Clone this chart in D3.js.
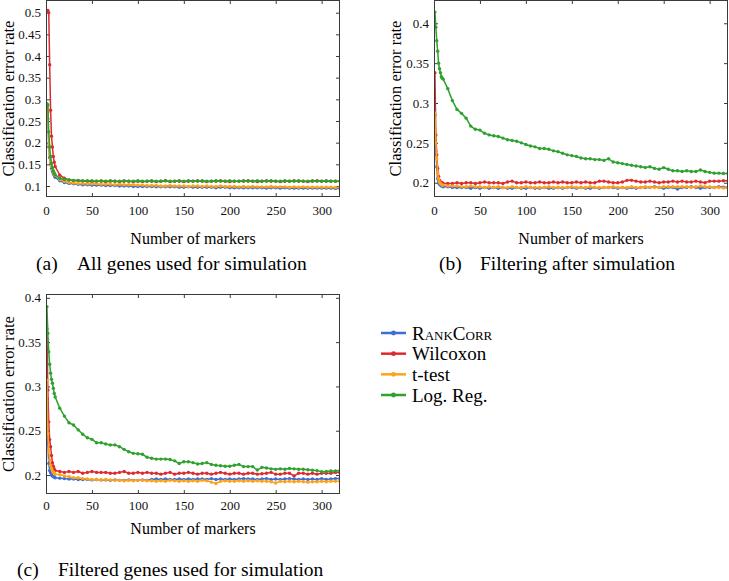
<!DOCTYPE html>
<html>
<head>
<meta charset="utf-8">
<script src="https://cdn.jsdelivr.net/npm/d3@7"></script>
<style>
  body { margin: 0; background: #fff; }
  svg text { font-family: "Liberation Serif", "DejaVu Serif", "Noto Serif", serif; }
</style>
</head>
<body>
<svg id="chart" width="729" height="581"></svg>
<script>
// number of markers at which each method was evaluated
const markers = [1,2,3,4,5,6,7,8,9,10,15,20,25,30,35,40,45,50,55,60,65,70,75,80,85,90,95,100,105,110,
  115,120,125,130,135,140,145,150,155,160,165,170,175,180,185,190,195,200,205,210,215,220,225,230,235,240,
  245,250,255,260,265,270,275,280,285,290,295,300,305,310,315,320];

const methods = ["RankCorr", "Wilcoxon", "t-test", "Log. Reg."];
const colors = ["#3b6fd6", "#dc2b2f", "#ffa21a", "#2ea12e"];

const xTicks = [0, 50, 100, 150, 200, 250, 300];
const yTicksA = [0.1, 0.15, 0.2, 0.25, 0.3, 0.35, 0.4, 0.45, 0.5];
const yTicksB = [0.2, 0.25, 0.3, 0.35, 0.4];
const yTicksC = [0.2, 0.25, 0.3, 0.35, 0.4];

// (a) all genes used for simulation
const rankA = [.28,.255,.19,.165,.15,.14,.133,.128,.124,.12,
  .112,.108,.106,.105,.104,.103,.103,.102,.102,.102,
  .101,.101,.101,.100,.100,.100,.099,.099,.099,.099,
  .099,.098,.098,.098,.098,.098,.097,.097,.098,.097,
  .097,.097,.097,.097,.096,.097,.097,.096,.096,.096,
  .096,.096,.096,.096,.096,.095,.096,.096,.095,.096,
  .095,.095,.095,.095,.095,.095,.095,.095,.095,.095,
  .0945,.0945];
const wilcA = [.505,.505,.50,.38,.275,.215,.19,.168,.155,.145,
  .125,.118,.114,.112,.112,.111,.111,.110,.111,.111,
  .110,.111,.111,.110,.111,.111,.110,.111,.110,.111,
  .111,.110,.111,.112,.110,.111,.111,.110,.111,.111,
  .112,.111,.110,.111,.111,.112,.111,.110,.111,.111,
  .111,.112,.111,.110,.111,.112,.111,.111,.110,.111,
  .111,.112,.111,.111,.110,.111,.112,.111,.111,.111,
  .111,.111];
const ttestA = [.275,.27,.195,.17,.155,.145,.138,.132,.128,.125,
  .115,.111,.108,.107,.106,.106,.105,.105,.105,.104,
  .104,.104,.103,.104,.103,.103,.103,.102,.102,.101,
  .101,.101,.100,.100,.101,.100,.100,.100,.099,.100,
  .100,.099,.100,.099,.099,.100,.099,.099,.099,.098,
  .099,.098,.099,.098,.098,.098,.099,.098,.098,.098,
  .097,.098,.097,.098,.097,.097,.097,.097,.097,.097,
  .0965,.0965];
const logregA = [.29,.287,.225,.19,.168,.152,.142,.135,.13,.126,
  .118,.115,.114,.113,.113,.112,.112,.112,.111,.112,
  .111,.112,.111,.111,.112,.111,.111,.112,.111,.111,
  .112,.111,.111,.112,.111,.111,.112,.111,.112,.111,
  .111,.112,.111,.111,.112,.111,.111,.112,.111,.111,
  .112,.111,.111,.112,.111,.111,.112,.111,.111,.112,
  .111,.111,.112,.111,.111,.112,.111,.111,.112,.111,
  .111,.111];

// (b) filtering after simulation
const rankB = [.285,.24,.22,.205,.2,.198,.197,.196,.196,.195,
  .195,.194,.194,.194,.194,.193,.194,.193,.194,.193,
  .194,.193,.194,.193,.193,.194,.193,.193,.194,.193,
  .193,.194,.193,.193,.194,.193,.194,.194,.193,.194,
  .193,.193,.194,.193,.194,.194,.194,.193,.194,.193,
  .194,.193,.194,.194,.194,.195,.194,.193,.194,.194,
  .192,.194,.194,.195,.194,.193,.194,.194,.194,.195,
  .1945,.194];
const wilcB = [.338,.26,.235,.218,.208,.203,.201,.200,.200,.199,
  .199,.199,.200,.199,.200,.200,.199,.200,.201,.200,
  .200,.200,.199,.201,.202,.200,.200,.201,.200,.200,
  .201,.200,.200,.201,.200,.201,.200,.200,.201,.200,
  .201,.200,.200,.202,.202,.201,.200,.200,.201,.203,
  .203,.202,.201,.201,.202,.201,.200,.201,.201,.202,
  .201,.202,.201,.201,.202,.201,.200,.202,.202,.202,
  .2025,.2025];
const ttestB = [.2875,.25,.23,.212,.205,.201,.199,.198,.197,.197,
  .196,.196,.196,.195,.195,.196,.195,.195,.194,.195,
  .194,.195,.194,.194,.195,.194,.194,.195,.194,.194,
  .194,.194,.195,.194,.194,.194,.194,.195,.194,.194,
  .194,.195,.194,.194,.194,.194,.195,.194,.194,.194,
  .195,.194,.194,.195,.194,.194,.194,.195,.195,.195,
  .195,.195,.195,.194,.195,.196,.195,.195,.194,.194,
  .1935,.1935];
const logregB = [.414,.395,.378,.365,.35,.343,.338,.333,.331,.33,
  .318,.303,.292,.287,.281,.271,.267,.266,.262,.26,
  .259,.258,.256,.254,.253,.252,.25,.248,.246,.245,
  .243,.243,.242,.24,.239,.237,.235,.234,.233,.231,
  .230,.230,.229,.229,.228,.230,.226,.225,.224,.223,
  .222,.221,.220,.219,.220,.218,.217,.219,.217,.215,
  .215,.214,.215,.214,.214,.216,.214,.213,.212,.212,
  .2115,.2115];

// (c) filtered genes used for simulation
const rankC = [.2865,.236,.213,.205,.2026,.2,.199,.198,.198,.197,
  .1965,.196,.1955,.1955,.195,.195,.195,.1945,.195,.1945,
  .1945,.194,.1945,.194,.194,.1945,.194,.194,.1945,.194,
  .195,.1955,.195,.1955,.195,.195,.1955,.195,.1955,.195,
  .1955,.1955,.195,.196,.195,.1955,.195,.1955,.195,.1955,
  .196,.1955,.1955,.195,.1955,.196,.195,.1955,.195,.1955,
  .196,.1955,.195,.1955,.195,.1955,.195,.196,.195,.1955,
  .196,.196];
const wilcC = [.365,.296,.26,.24,.232,.222,.214,.21,.207,.205,
  .204,.203,.204,.203,.204,.202,.203,.204,.203,.203,
  .203,.202,.202,.203,.204,.202,.202,.203,.202,.203,
  .202,.202,.201,.202,.203,.201,.202,.202,.203,.202,
  .201,.202,.202,.201,.202,.203,.202,.201,.202,.202,
  .201,.202,.202,.201,.2015,.202,.203,.201,.201,.202,
  .202,.199,.202,.202,.201,.202,.201,.202,.202,.202,
  .203,.203];
const ttestC = [.307,.247,.228,.217,.211,.2076,.205,.203,.2025,.201,
  .2005,.199,.198,.197,.197,.196,.1955,.195,.195,.1945,
  .195,.1945,.194,.194,.1935,.194,.1935,.194,.194,.1935,
  .1935,.193,.1935,.193,.194,.1935,.193,.1935,.193,.1935,
  .193,.194,.1935,.192,.1905,.193,.1935,.193,.193,.1935,
  .193,.1935,.193,.1935,.193,.193,.1925,.191,.193,.1925,
  .193,.1925,.193,.1925,.192,.1925,.1925,.193,.1925,.193,
  .193,.193];
const logregC = [.39,.36,.339,.325,.315,.308,.3035,.298,.292,.288,
  .2755,.2665,.259,.2565,.251,.246,.242,.2403,.2365,.2365,
  .235,.234,.234,.232,.229,.2263,.2245,.224,.2235,.220,
  .219,.218,.218,.218,.2175,.216,.213,.215,.215,.214,
  .2125,.213,.214,.212,.211,.2105,.210,.210,.211,.212,
  .2095,.2095,.2095,.2056,.2087,.208,.207,.2064,.207,.2065,
  .2075,.207,.2065,.2065,.206,.2055,.205,.2037,.204,.2045,
  .2045,.205];

const svg = d3.select("#chart");
const frameColor = "#3a3a3a";
const serif = '"Liberation Serif", "DejaVu Serif", "Noto Serif", serif';

function drawPanel(cfg) {
  const g = svg.append("g").attr("class", "panel");
  const x = d3.scaleLinear().domain([0, 320]).range([cfg.left, cfg.right]);
  const y = d3.scaleLinear().domain(cfg.yDomain).range([cfg.bottom, cfg.top]);

  g.append("clipPath").attr("id", "clip-" + cfg.id)
    .append("rect")
    .attr("x", cfg.left).attr("y", cfg.top)
    .attr("width", cfg.right - cfg.left).attr("height", cfg.bottom - cfg.top);

  const fmt = d => String(+d.toFixed(2));

  // ticks on all four sides, pointing inward
  const axB = g.append("g").attr("transform", `translate(0,${cfg.bottom})`)
    .call(d3.axisBottom(x).tickValues(xTicks).tickSize(-4).tickPadding(cfg.xPad).tickFormat(d3.format("d")));
  const axT = g.append("g").attr("transform", `translate(0,${cfg.top})`)
    .call(d3.axisTop(x).tickValues(xTicks).tickSize(-4).tickFormat(""));
  const axL = g.append("g").attr("transform", `translate(${cfg.left},0)`)
    .call(d3.axisLeft(y).tickValues(cfg.yTicks).tickSize(-4).tickPadding(5).tickFormat(fmt));
  const axR = g.append("g").attr("transform", `translate(${cfg.right},0)`)
    .call(d3.axisRight(y).tickValues(cfg.yTicks).tickSize(-4).tickFormat(""));
  [axB, axT, axL, axR].forEach(a => {
    a.attr("font-family", serif).attr("font-size", 13);
    a.select(".domain").remove();
    a.selectAll("line").attr("stroke", frameColor);
    a.selectAll("text").attr("fill", "#111");
  });

  const line = d3.line()
    .x((d, i) => x(markers[i]))
    .y(d => y(d));

  const plot = g.append("g").attr("clip-path", `url(#clip-${cfg.id})`);
  cfg.series.forEach((s, k) => {
    plot.append("path")
      .datum(s)
      .attr("fill", "none")
      .attr("stroke", colors[k])
      .attr("stroke-width", 1.5)
      .attr("stroke-linejoin", "round")
      .attr("d", line);
    plot.append("g").selectAll("circle")
      .data(s)
      .join("circle")
      .attr("cx", (d, i) => x(markers[i]))
      .attr("cy", d => y(d))
      .attr("r", 1.7)
      .attr("fill", colors[k]);
  });

  g.append("rect")
    .attr("x", cfg.left + 0.5).attr("y", cfg.top + 0.5)
    .attr("width", cfg.right - cfg.left - 1).attr("height", cfg.bottom - cfg.top - 1)
    .attr("fill", "none").attr("stroke", frameColor).attr("stroke-width", 1);

  // axis titles
  g.append("text")
    .attr("transform", `translate(${cfg.yLabelX},${(cfg.top + cfg.bottom) / 2}) rotate(-90)`)
    .attr("text-anchor", "middle")
    .attr("font-family", serif).attr("font-size", 16.5)
    .text("Classification error rate");
  g.append("text")
    .attr("x", (cfg.left + cfg.right) / 2)
    .attr("y", cfg.xLabelY)
    .attr("text-anchor", "middle")
    .attr("font-family", serif).attr("font-size", 16)
    .text("Number of markers");

  // caption
  g.append("text").attr("x", cfg.capX).attr("y", cfg.capY)
    .attr("font-family", serif).attr("font-size", 19.5).text(cfg.tag);
  g.append("text").attr("x", cfg.capX + 41).attr("y", cfg.capY)
    .attr("font-family", serif).attr("font-size", 19.5).text(cfg.caption);
}

drawPanel({
  id: "a", left: 46, right: 340, top: 0, bottom: 197,
  yDomain: [0.0746, 0.5293], yTicks: yTicksA,
  series: [rankA, wilcA, ttestA, logregA],
  xPad: 9, yLabelX: 14, xLabelY: 244,
  capX: 36, capY: 270, tag: "(a)", caption: "All genes used for simulation"
});
drawPanel({
  id: "b", left: 434, right: 728, top: 0, bottom: 197,
  yDomain: [0.1821, 0.4292], yTicks: yTicksB,
  series: [rankB, wilcB, ttestB, logregB],
  xPad: 9, yLabelX: 401, xLabelY: 244,
  capX: 439, capY: 270, tag: "(b)", caption: "Filtering after simulation"
});
drawPanel({
  id: "c", left: 46, right: 340, top: 294, bottom: 494,
  yDomain: [0.1786, 0.4043], yTicks: yTicksC,
  series: [rankC, wilcC, ttestC, logregC],
  xPad: 7, yLabelX: 14, xLabelY: 534,
  capX: 17, capY: 576, tag: "(c)", caption: "Filtered genes used for simulation"
});

// legend
const legend = svg.append("g").attr("class", "legend");
const rowY = d3.scalePoint().domain(methods).range([333, 395]);
methods.forEach((m, k) => {
  const row = legend.append("g").attr("transform", `translate(0,${rowY(m)})`);
  row.append("line").attr("x1", 381).attr("x2", 406)
    .attr("stroke", colors[k]).attr("stroke-width", 2.5);
  row.append("circle").attr("cx", 393.5).attr("r", 2.4).attr("fill", colors[k]);
  row.append("text").attr("x", 412).attr("y", 6.5)
    .attr("font-family", serif).attr("font-size", 19)
    .style("font-variant", k === 0 ? "small-caps" : "normal")
    .text(m);
});
</script>
</body>
</html>
